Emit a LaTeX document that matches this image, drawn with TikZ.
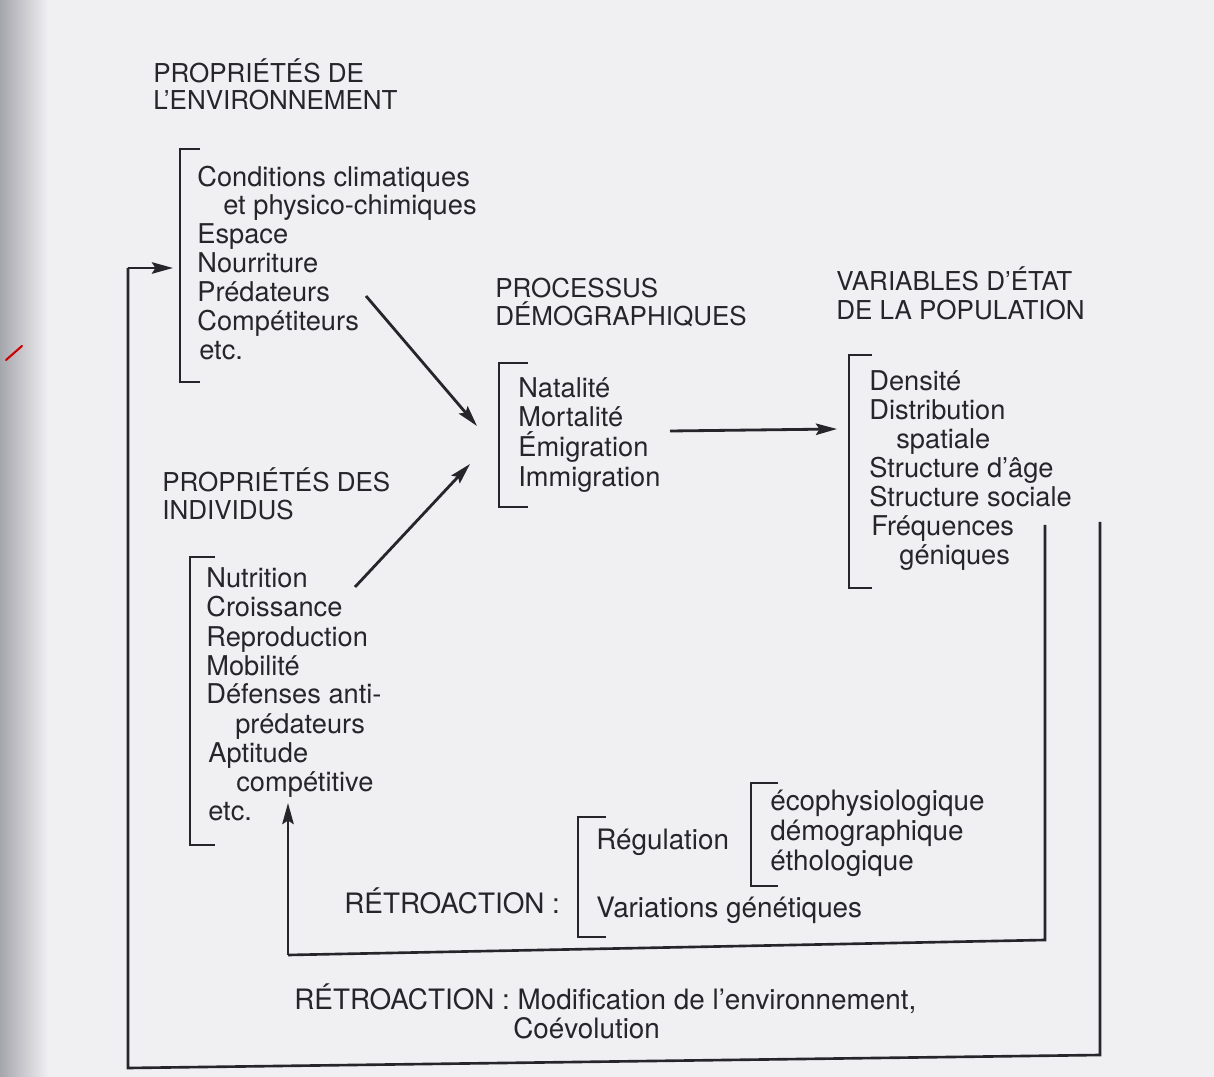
\documentclass[tikz,border=0pt]{standalone}
\usepackage{fontspec}
\setmainfont{TeX Gyre Heros}
\newfontfamily\retrofont[FakeStretch=0.99]{TeX Gyre Heros}
\usetikzlibrary{arrows.meta}
\definecolor{paper}{RGB}{240,240,243}
\definecolor{ink}{RGB}{38,38,42}
\definecolor{edge}{RGB}{165,165,172}
\begin{document}
\begin{tikzpicture}[x=0.02cm,y=-0.02cm,
  head/.style={anchor=base west, inner sep=0pt, text=ink, font=\fontsize{14.8}{17}\selectfont},
  lbl/.style={anchor=base west, inner sep=0pt, text=ink, font=\fontsize{15.5}{18}\selectfont},
  retro/.style={anchor=base west, inner sep=0pt, text=ink, font=\fontsize{16}{19}\retrofont},
  brk/.style={draw=ink, line width=1.1pt},
  flow/.style={draw=ink, line width=1.6pt, -{Stealth[length=12pt,width=6.5pt,inset=2pt]}},
  loop/.style={draw=ink, line width=1.5pt}]

% page and scanned edge
\fill[paper] (0,0) rectangle (1214,1077);
\useasboundingbox (0,0) rectangle (1214,1077);
\shade[left color=edge, right color=paper] (0,0) rectangle (48,1077);
\draw[red!80!black, line width=1.2pt, line cap=round] (6,360) -- (22,346);

% ---------- properties of the environment ----------
\node[head] (envh1) at (153,83) {PROPRIÉTÉS DE};
\node[head] (envh2) at (153,110) {L’ENVIRONNEMENT};
\draw[brk] (200,149) -- (180,149) -- (180,382) -- (200,382);
\node[lbl] (env1) at (197,187) {Conditions climatiques};
\node[lbl] (env2) at (223,215) {et physico-chimiques};
\node[lbl] (env3) at (197,244) {Espace};
\node[lbl] (env4) at (197,273) {Nourriture};
\node[lbl] (env5) at (197,302) {Prédateurs};
\node[lbl] (env6) at (197,331) {Compétiteurs};
\node[lbl] (env7) at (199,360) {etc.};

% ---------- properties of individuals ----------
\node[head] (indh1) at (162,492) {PROPRIÉTÉS DES};
\node[head] (indh2) at (162,520) {INDIVIDUS};
\draw[brk] (215,557) -- (190,557) -- (190,845) -- (215,845);
\node[lbl] (ind1) at (206,588) {Nutrition};
\node[lbl] (ind2) at (206,617) {Croissance};
\node[lbl] (ind3) at (206,646) {Reproduction};
\node[lbl] (ind4) at (206,675) {Mobilité};
\node[lbl] (ind5) at (206,704) {Défenses anti-};
\node[lbl] (ind6) at (235,733) {prédateurs};
\node[lbl] (ind7) at (208,762) {Aptitude};
\node[lbl] (ind8) at (236,791) {compétitive};
\node[lbl] (ind9) at (208,820) {etc.};

% ---------- demographic processes ----------
\node[head] (proch1) at (495,298) {PROCESSUS};
\node[head] (proch2) at (495,326) {DÉMOGRAPHIQUES};
\draw[brk] (528,363) -- (499,363) -- (499,507) -- (528,507);
\node[lbl] (proc1) at (518,398) {Natalité};
\node[lbl] (proc2) at (518,427) {Mortalité};
\node[lbl] (proc3) at (518,457) {Émigration};
\node[lbl] (proc4) at (518,487) {Immigration};

% ---------- state variables ----------
\node[head] (varh1) at (836,291) {VARIABLES D’ÉTAT};
\node[head] (varh2) at (836,320) {DE LA POPULATION};
\draw[brk] (872,355) -- (849,355) -- (849,588) -- (872,588);
\node[lbl] (var1) at (869,391) {Densité};
\node[lbl] (var2) at (869,420) {Distribution};
\node[lbl] (var3) at (896,449) {spatiale};
\node[lbl] (var4) at (869,478) {Structure d’âge};
\node[lbl] (var5) at (869,507) {Structure sociale};
\node[lbl] (var6) at (871,536) {Fréquences};
\node[lbl] (var7) at (899,565) {géniques};

% ---------- feedback labels ----------
\draw[brk] (606,817) -- (578,817) -- (578,937) -- (606,937);
\draw[brk] (778,783) -- (751,783) -- (751,886) -- (778,886);
\node[retro] (reg) at (596,849) {Régulation};
\node[retro] (reg1) at (770,810) {écophysiologique};
\node[retro] (reg2) at (770,840) {démographique};
\node[retro] (reg3) at (770,870) {éthologique};
\node[retro] (retro1) at (344,913) {RÉTROACTION :};
\node[retro] (gen) at (596,917) {Variations génétiques};
\node[retro] (retro2) at (294,1009) {RÉTROACTION : Modification de l’environnement,};
\node[retro] (coev) at (513,1038) {Coévolution};

% ---------- connectors ----------
\coordinate (envout) at (366,296);
\coordinate (procinA) at (477,426);
\coordinate (indout) at (355,587);
\coordinate (procinB) at (470,464);
\coordinate (procout) at (670,431);
\coordinate (varin) at (837,429);
\draw[flow] (envout) -- (procinA);
\draw[flow] (indout) -- (procinB);
\draw[flow] (procout) -- (varin);

% inner feedback loop to the individuals
\coordinate (innertop) at (1045,525);
\coordinate (innerR) at (1045,940);
\coordinate (innerL) at (288,955);
\coordinate (indin) at (288,803);
\draw[loop] (innertop) -- (innerR) -- (innerL);
\draw[flow, line cap=butt] (innerL) -- (indin);

% outer feedback loop to the environment
\coordinate (outertop) at (1100,522);
\coordinate (outerR) at (1100,1055);
\coordinate (outerL) at (128,1068);
\coordinate (outerU) at (128,268);
\coordinate (envin) at (173,268);
\draw[loop] (outertop) -- (outerR) -- (outerL) -- (outerU);
\draw[flow] (outerU) -- (envin);
\end{tikzpicture}
\end{document}
